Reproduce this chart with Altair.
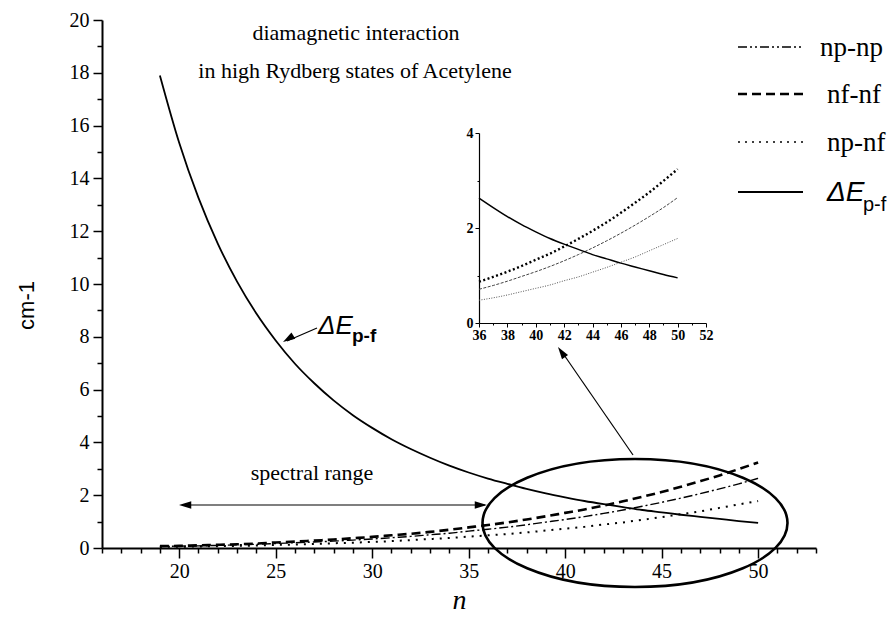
import altair as alt
import pandas as pd

# ---------------- data ----------------
n_vals = list(range(19, 51))
delta_e_pf = [17.9, 15.35, 13.26, 11.53, 10.09, 8.88, 7.86, 6.98, 6.24, 5.59, 5.03, 4.55, 4.12, 3.75, 3.42, 3.12,
              2.86, 2.63, 2.43, 2.24, 2.07, 1.92, 1.78, 1.66, 1.55, 1.44, 1.35, 1.26, 1.18, 1.10, 1.02, 0.95]
nf_nf = [0.07, 0.08, 0.10, 0.12, 0.14, 0.17, 0.21, 0.24, 0.28, 0.32, 0.37, 0.42, 0.48, 0.54, 0.61, 0.69,
         0.78, 0.87, 0.97, 1.08, 1.20, 1.33, 1.46, 1.61, 1.77, 1.94, 2.12, 2.32, 2.53, 2.75, 2.99, 3.24]
np_np = [0.06, 0.07, 0.08, 0.10, 0.12, 0.14, 0.17, 0.20, 0.23, 0.26, 0.30, 0.34, 0.39, 0.44, 0.50, 0.56,
         0.64, 0.71, 0.79, 0.88, 0.98, 1.08, 1.19, 1.31, 1.44, 1.58, 1.73, 1.89, 2.06, 2.24, 2.43, 2.64]
np_nf = [0.04, 0.05, 0.055, 0.07, 0.08, 0.095, 0.115, 0.13, 0.15, 0.18, 0.20, 0.23, 0.26, 0.30, 0.34, 0.38,
         0.43, 0.48, 0.53, 0.59, 0.66, 0.73, 0.80, 0.89, 0.97, 1.07, 1.17, 1.28, 1.39, 1.52, 1.65, 1.78]

series_names = ["np-np", "nf-nf", "np-nf", "ΔE p-f"]
inset_start = 36

main_x_domain = [16, 53]
main_y_domain = [0, 20]
main_x_ticks = list(range(16, 54))
main_y_ticks = list(range(0, 21))
inset_x_domain = [36, 52]
inset_y_domain = [0, 4]
inset_x_ticks = list(range(36, 53))
inset_y_ticks = [0, 1, 2, 3, 4]

title_lines = ["diamagnetic interaction", "in high Rydberg states of Acetylene"]
range_label = "spectral range"

# ---------------- tables ----------------
rows = []
for name, vals in zip(series_names, [np_np, nf_nf, np_nf, delta_e_pf]):
    for n, v in zip(n_vals, vals):
        rows.append({"n": n, "value": v, "series": name})
df = pd.DataFrame(rows)
df_inset = df[df["n"] >= inset_start]
one = pd.DataFrame({"k": [0]})

W, H = 714, 528
SERIF = "Liberation Serif"
SANS = "Liberation Sans"

# ---------------- main axes ----------------
X_main = alt.X("n:Q", scale=alt.Scale(domain=main_x_domain, nice=False, zero=False),
               axis=alt.Axis(values=main_x_ticks, title="n", grid=False,
                             labelExpr="datum.value % 5 === 0 ? datum.label : ''",
                             tickSize={"condition": {"test": "datum.value % 5 === 0", "value": 10}, "value": 5},
                             tickWidth=1.5, domainWidth=2, domainColor="black", tickColor="black",
                             labelColor="black", labelFont=SERIF, labelFontSize=20, labelPadding=3,
                             labelOverlap=False, labelFlush=False,
                             titleFont=SERIF, titleFontStyle="italic", titleFontWeight="normal",
                             titleFontSize=28, titleColor="black", titleBaseline="alphabetic",
                             titleY=60))
Y_main = alt.Y("value:Q", scale=alt.Scale(domain=main_y_domain, nice=False, zero=False),
               axis=alt.Axis(values=main_y_ticks, title="cm-1", grid=False,
                             labelExpr="datum.value % 2 === 0 ? datum.label : ''",
                             tickSize={"condition": {"test": "datum.value % 2 === 0", "value": 9}, "value": 5},
                             tickWidth=1.5, domainWidth=2, domainColor="black", tickColor="black",
                             labelColor="black", labelFont=SERIF, labelFontSize=20, labelPadding=4,
                             labelOverlap=False, labelFlush=False,
                             titleFont=SANS, titleFontWeight="normal", titleFontSize=22,
                             titleColor="black", titleBaseline="alphabetic", titleX=-69, titleY=285))

main_styles = {
    "np-np": dict(strokeDash=[9, 3, 2, 3], strokeWidth=1.4),
    "nf-nf": dict(strokeDash=[9, 5], strokeWidth=2.6),
    "np-nf": dict(strokeDash=[2, 6], strokeWidth=2.0),
    "ΔE p-f": dict(strokeWidth=1.8),
}
main_layers = []
for name in series_names:
    main_layers.append(
        alt.Chart(df).transform_filter(alt.datum.series == name)
        .mark_line(color="black", interpolate="monotone", **main_styles[name])
        .encode(x=X_main, y=Y_main)
    )
main = alt.layer(*main_layers)

# ---------------- inset ----------------
X_in = alt.X("n:Q", scale=alt.Scale(domain=inset_x_domain, range=[377, 604], nice=False, zero=False),
             axis=alt.Axis(values=inset_x_ticks, title=None, grid=False, orient="bottom", offset=-225,
                           labelExpr="datum.value % 2 === 0 ? datum.label : ''",
                           tickSize={"condition": {"test": "datum.value % 2 === 0", "value": 4}, "value": 2},
                           tickWidth=1, domainWidth=1.2, domainColor="black", tickColor="black",
                           labelColor="black", labelFont=SERIF, labelFontWeight="bold", labelFontSize=14,
                           labelPadding=1, labelOverlap=False, labelFlush=False))
Y_in = alt.Y("value:Q", scale=alt.Scale(domain=inset_y_domain, range=[303, 113], nice=False, zero=False),
             axis=alt.Axis(values=inset_y_ticks, title=None, grid=False, orient="left", offset=-377,
                           labelExpr="datum.value % 2 === 0 ? datum.label : ''",
                           tickSize={"condition": {"test": "datum.value % 2 === 0", "value": 4}, "value": 2},
                           tickWidth=1, domainWidth=1.2, domainColor="black", tickColor="black",
                           labelColor="black", labelFont=SERIF, labelFontWeight="bold", labelFontSize=14,
                           labelPadding=2, labelOverlap=False, labelFlush=False))
inset_styles = {
    "np-np": dict(strokeDash=[3, 1.5], strokeWidth=1.0, color="#444444"),
    "nf-nf": dict(strokeDash=[2, 2.5], strokeWidth=2.4, color="black"),
    "np-nf": dict(strokeDash=[1, 1.5], strokeWidth=1.0, color="#555555"),
    "ΔE p-f": dict(strokeWidth=1.5, color="black"),
}
inset_layers = []
for name in series_names:
    inset_layers.append(
        alt.Chart(df_inset).transform_filter(alt.datum.series == name)
        .mark_line(interpolate="monotone", **inset_styles[name])
        .encode(x=X_in, y=Y_in)
    )
inset = alt.layer(*inset_layers)

# ---------------- annotations ----------------
def text(t, x, y, size, font=SERIF, align="center", style="normal", weight="normal", baseline="alphabetic"):
    return alt.Chart(one).mark_text(text=t, font=font, fontSize=size, align=align, fontStyle=style,
                                    fontWeight=weight, baseline=baseline, color="black").encode(
        x=alt.value(x), y=alt.value(y))

def seg(x1, y1, x2, y2, w=1.2):
    return alt.Chart(one).mark_rule(color="black", strokeWidth=w).encode(
        x=alt.value(x1), y=alt.value(y1), x2=alt.value(x2), y2=alt.value(y2))

HEAD = "M 0 0 L 0.3 1 L -0.3 1 Z"
def head(x, y, ang):
    return alt.Chart(one).mark_point(shape=HEAD, size=600, filled=True, color="black", opacity=1,
                                     angle=ang, strokeWidth=0).encode(x=alt.value(x), y=alt.value(y))

k = 0.5523
r = 0.42
ELLIPSE = (f"M 1 0 C 1 {r*k:.4f} {k:.4f} {r} 0 {r} C {-k:.4f} {r} -1 {r*k:.4f} -1 0 "
           f"C -1 {-r*k:.4f} {-k:.4f} {-r} 0 {-r} C {k:.4f} {-r} 1 {-r*k:.4f} 1 0 Z")
ellipse = alt.Chart(one).mark_point(shape=ELLIPSE, size=305 * 305, filled=False, color="black",
                                    strokeWidth=2.6, opacity=1).encode(x=alt.value(533), y=alt.value(503))

annots = [
    text(title_lines[0], 254, 20, 22),
    text(title_lines[1], 253, 58, 22),
    text(range_label, 210, 460, 22),
    seg(80, 485, 383, 485),
    head(77, 485, 270),
    head(385, 485, 90),
    seg(531, 435, 460, 332),
    head(456, 327, 325),
    seg(215, 308, 185, 321),
    head(181, 322, 238),
    text("ΔE", 216, 314, 26, font=SANS, align="left", style="italic"),
    text("p-f", 250, 322, 19, font=SANS, align="left", weight="bold"),
    ellipse,
]

# legend
leg_styles = [
    dict(strokeDash=[9, 3, 2, 3, 2, 3], strokeWidth=1.3),
    dict(strokeDash=[9, 5], strokeWidth=2.6),
    dict(strokeDash=[2, 5], strokeWidth=1.6),
    dict(strokeWidth=2.0),
]
leg_y = [27, 74, 122, 172]
leg_x_text = [718, 725, 725, 725]
for i, name in enumerate(series_names):
    annots.append(alt.Chart(one).mark_rule(color="black", **leg_styles[i]).encode(
        x=alt.value(636), x2=alt.value(701), y=alt.value(leg_y[i])))
    if name.startswith("Δ"):
        annots.append(text("ΔE", leg_x_text[i], leg_y[i] + 9, 28, font=SANS, align="left", style="italic"))
        annots.append(text("p-f", leg_x_text[i] + 36, leg_y[i] + 19, 20, font=SANS, align="left"))
    else:
        annots.append(text(name, leg_x_text[i], leg_y[i] + 9, 27, align="left"))

annot = alt.layer(*annots)

chart = (
    alt.layer(main, inset, annot)
    .resolve_scale(x="independent", y="independent")
    .properties(width=W, height=H, autosize="none",
                padding={"left": 102, "top": 20, "right": 76, "bottom": 79}, background="white")
    .configure_view(stroke=None)
)

chart.save("out.html", embed_options={"renderer": "svg", "actions": False})
